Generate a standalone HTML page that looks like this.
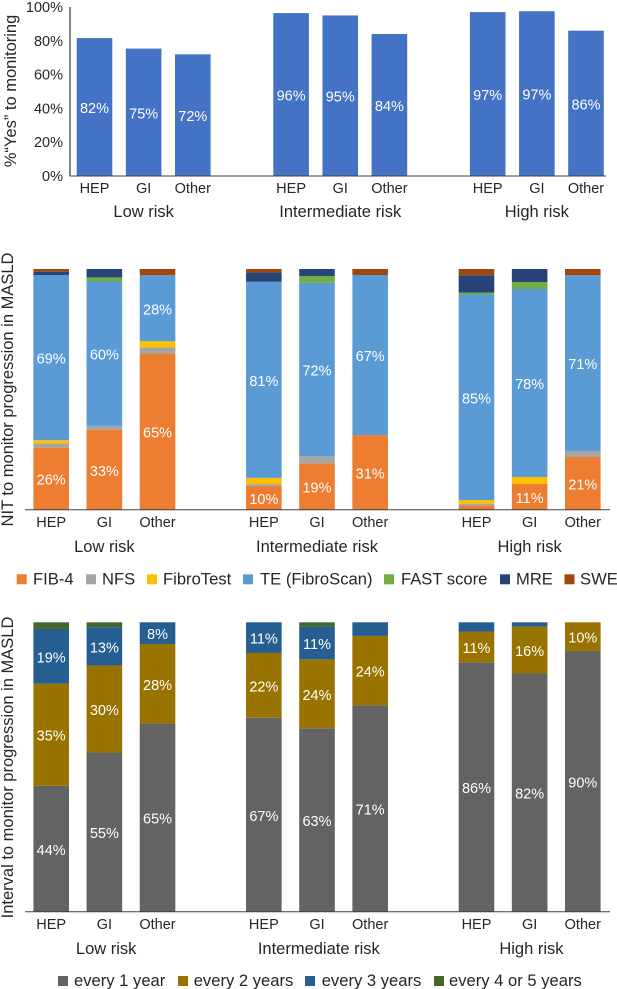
<!DOCTYPE html>
<html lang="en">
<head>
<meta charset="utf-8">
<title>Monitoring in MASLD by risk group</title>
<style>
html,body{margin:0;padding:0;background:#fff;}
#figure{display:block;width:617px;height:989px;}
text{font-family:"Liberation Sans",Arial,sans-serif;}
</style>
</head>
<body>
<svg id="figure" xmlns="http://www.w3.org/2000/svg" width="617" height="989" viewBox="0 0 617 989"></svg>
<script>
// Shared categories
const specialties = ["HEP", "GI", "Other"];
const riskGroups = ["Low risk", "Intermediate risk", "High risk"];

// Chart 1: % "Yes" to monitoring
const yesTicks = ["0%", "20%", "40%", "60%", "80%", "100%"];
const yesTickValues = [0, 20, 40, 60, 80, 100];
const yesValues = [81.6, 75.4, 72, 96.4, 95, 84, 97, 97.5, 86];
const yesLabels = ["82%", "75%", "72%", "96%", "95%", "84%", "97%", "97%", "86%"];

// Chart 2: NIT to monitor progression (stack order bottom to top)
const nitNames = ["FIB-4", "NFS", "FibroTest", "TE (FibroScan)", "FAST score", "MRE", "SWE"];
const nitFib4 = [25.8, 33.2, 64.8, 9.8, 19.3, 31.0, 1.7, 10.7, 21.9];
const nitNfs = [1.7, 1.7, 2.5, 0.8, 2.9, 0, 0.8, 0, 2.5];
const nitFibroTest = [1.4, 0, 2.6, 2.6, 0, 0, 1.5, 2.9, 0];
const nitTe = [68.7, 60.1, 27.4, 81.4, 72.2, 66.5, 85.3, 78.1, 73.0];
const nitFast = [0, 1.7, 0, 0, 2.8, 0, 0.8, 2.9, 0];
const nitMre = [1.4, 3.5, 0, 3.9, 2.9, 0, 7.2, 5.4, 0];
const nitSwe = [1.1, 0, 2.6, 1.4, 0, 2.5, 2.6, 0, 2.6];
const nitFib4Labels = ["26%", "33%", "65%", "10%", "19%", "31%", "", "11%", "21%"];
const nitTeLabels = ["69%", "60%", "28%", "81%", "72%", "67%", "85%", "78%", "71%"];

// Chart 3: Interval to monitor progression (stack order bottom to top)
const intervalNames = ["every 1 year", "every 2 years", "every 3 years", "every 4 or 5 years"];
const interval1 = [43.5, 55, 65, 67, 63.4, 71.3, 86.2, 82.3, 90.1];
const interval2 = [35.3, 30.1, 27.5, 22.4, 23.8, 24, 10.6, 16.2, 9.9];
const interval3 = [18.9, 13.2, 7.5, 10.6, 11.3, 4.7, 3.2, 1.5, 0];
const interval45 = [2.3, 1.7, 0, 0, 1.5, 0, 0, 0, 0];
const interval1Labels = ["44%", "55%", "65%", "67%", "63%", "71%", "86%", "82%", "90%"];
const interval2Labels = ["35%", "30%", "28%", "22%", "24%", "24%", "11%", "16%", "10%"];
const interval3Labels = ["19%", "13%", "8%", "11%", "11%", "", "", "", ""];

const svg = document.getElementById("figure");
const NS = "http://www.w3.org/2000/svg";
const TICK_SIZE = 14.5;
const TITLE_SIZE = 16.5;

function make(tag, attrs, parent) {
  const el = document.createElementNS(NS, tag);
  for (const k in attrs) el.setAttribute(k, attrs[k]);
  (parent || svg).appendChild(el);
  return el;
}
function slug(s) {
  return s.toLowerCase().replace(/[^a-z0-9]+/g, "-").replace(/^-|-$/g, "");
}
function addText(str, x, y, size, fill, anchor, parent) {
  const t = make("text", {x: x, y: y, "font-size": size, fill: fill, "text-anchor": anchor}, parent);
  t.textContent = str;
  return t;
}
function makeXScale(first, step) {
  // each risk group occupies four slots: three bars and one blank
  return function (i) {
    return first + step * (Math.floor(i / 3) * 4 + i % 3);
  };
}
function makeYScale(baseline, top) {
  return function (v) {
    return baseline - (v / 100) * (baseline - top);
  };
}
function drawCategoryLabels(g, x, catY, groupY, groupShift) {
  for (let i = 0; i < 9; i++) {
    const c = addText(specialties[i % 3], x(i), catY, TICK_SIZE, "#262626", "middle", g);
    
    
  }
  riskGroups.forEach(function (name, j) {
    const t = addText(name, x(j * 3 + 1) + groupShift, groupY, TITLE_SIZE, "#262626", "middle", g);
    
    
  });
}
function drawYTitle(str, x, y, name) {
  const t = make("text", {
    transform: "translate(" + x + "," + y + ") rotate(-90)",
    "font-size": TITLE_SIZE, fill: "#262626", "text-anchor": "middle"
  });
  t.textContent = str;
  
  
}
function drawStacked(cfg) {
  const g = make("g", {});
  
  
  const x = makeXScale(51.2, 53.16);
  const y = makeYScale(cfg.baseline, cfg.top);
  const barW = 35.6;
  for (let i = 0; i < 9; i++) {
    const total = cfg.series.reduce(function (s, arr) { return s + arr[i]; }, 0);
    let cum = 0;
    cfg.series.forEach(function (arr, s) {
      const v = arr[i] / total * 100;
      const y0 = y(cum);
      const y1 = y(cum + v);
      cum += v;
      if (arr[i] <= 0) return;
      const r = make("rect", {x: x(i) - barW / 2, y: y1, width: barW, height: y0 - y1, fill: cfg.colors[s]}, g);
      
      
      const labels = cfg.labels[s];
      if (labels && labels[i]) {
        const t = addText(labels[i], x(i), (y0 + y1) / 2 + 6, TICK_SIZE, "#ffffff", "middle", g);
        
        
      }
    });
  }
  const axis = make("line", {x1: 25, x2: 610, y1: cfg.baseline, y2: cfg.baseline, stroke: "#404040", "stroke-width": 1}, g);
  
  
  drawCategoryLabels(g, x, cfg.catY, cfg.groupY, cfg.groupShift);
}
function drawLegend(entries, colors, squareX, textX, y, name) {
  const g = make("g", {});
  
  
  entries.forEach(function (label, i) {
    const e = make("g", {}, g);
    
    
    const sw = make("rect", {x: squareX[i], y: y - 10, width: 10, height: 10, fill: colors[i]}, e);
    
    
    const t = addText(label, textX[i], y, 16.6, "#262626", "start", e);
    
    
  });
}

// ---- Chart 1 ----
(function () {
  const g = make("g", {});
  
  
  const x = makeXScale(94.5, 49.15);
  const y = makeYScale(176, 7);
  const barW = 35.6;
  yesValues.forEach(function (v, i) {
    const r = make("rect", {x: x(i) - barW / 2, y: y(v), width: barW, height: y(0) - y(v), fill: "#4472C4"}, g);
    
    
    const t = addText(yesLabels[i], x(i), (y(v) + y(0)) / 2 + 6, TICK_SIZE, "#ffffff", "middle", g);
    
    
  });
  yesTicks.forEach(function (label, i) {
    const t = addText(label, 63, y(yesTickValues[i]) + 5, TICK_SIZE, "#262626", "end", g);
    
    
  });
  const yAxis = make("line", {x1: 70, x2: 70, y1: y(100), y2: y(0), stroke: "#666666", "stroke-width": 1.6}, g);
  
  
  const xAxis = make("line", {x1: 69.5, x2: 606, y1: y(0), y2: y(0), stroke: "#404040", "stroke-width": 1}, g);
  
  
  drawCategoryLabels(g, x, 193, 217, 0);
})();
drawYTitle("%\u201CYes\u201D to monitoring", 16, 91, "y-axis-title-yes");

// ---- Chart 2 ----
const nitColors = ["#ED7D31", "#A5A5A5", "#FFC000", "#5B9BD5", "#70AD47", "#264478", "#9E480E"];
drawStacked({
  name: "nit-chart",
  baseline: 509.7,
  top: 269,
  catY: 527,
  groupY: 552,
  groupShift: 0,
  series: [nitFib4, nitNfs, nitFibroTest, nitTe, nitFast, nitMre, nitSwe],
  colors: nitColors,
  labels: [nitFib4Labels, null, null, nitTeLabels, null, null, null]
});
drawYTitle("NIT to monitor progression in MASLD", 13, 389.5, "y-axis-title-nit");
drawLegend(nitNames, nitColors,
  [16.7, 86, 147, 243, 384, 500, 564.5],
  [33, 102, 163, 260, 401, 516, 580],
  584.3, "nit-legend");

// ---- Chart 3 ----
const intervalColors = ["#636363", "#997300", "#255E91", "#43682B"];
drawStacked({
  name: "interval-chart",
  baseline: 911.7,
  top: 622.3,
  catY: 929,
  groupY: 954,
  groupShift: 1.8,
  series: [interval1, interval2, interval3, interval45],
  colors: intervalColors,
  labels: [interval1Labels, interval2Labels, interval3Labels, null]
});
drawYTitle("Interval to monitor progression in MASLD", 13, 767.5, "y-axis-title-interval");
drawLegend(intervalNames, intervalColors,
  [58, 178, 305, 434],
  [74, 193.7, 321.7, 449],
  986, "interval-legend");
</script>
</body>
</html>
